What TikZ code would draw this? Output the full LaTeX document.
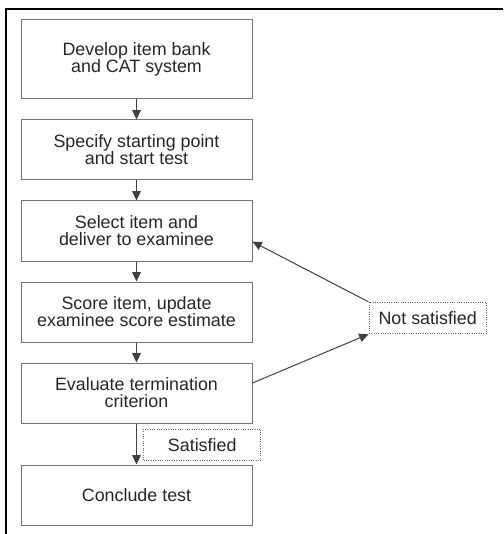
\documentclass[tikz,border=0pt]{standalone}
\usepackage{fontspec}
\setmainfont{Liberation Sans}
\usepackage{tikz}
\usetikzlibrary{arrows.meta, positioning}

\begin{document}
\begin{tikzpicture}[
      x=0.75pt, y=-0.75pt,
      node distance=15pt,
      box/.style={draw=black!55, line width=0.75pt, minimum width=173.25pt, minimum height=45pt, inner sep=0pt, align=center, font=\fontsize{13.4}{12.8}\selectfont, text=black!85},
      tag/.style={draw=black!60, densely dotted, line width=0.75pt, minimum width=88pt, minimum height=23.5pt, inner sep=0pt, font=\fontsize{13.4}{12.8}\selectfont, text=black!85},
      ar/.style={-{Triangle[length=7pt, width=6.5pt]}, draw=black!75, line width=0.75pt}
    ]
    \useasboundingbox (0,0) rectangle (503,534);
    \draw[line width=1.6pt] (6,534) -- (6,9) -- (503,9);

    \node[box, minimum height=59.25pt] (dev) at (136.5,59.5) {Develop item bank\\and CAT system};
    \node[box, below=of dev] (spec) {Specify starting point\\and start test};
    \node[box, below=of spec] (sel) {Select item and\\deliver to examinee};
    \node[box, below=of sel] (score) {Score item, update\\examinee score estimate};
    \node[box, below=of score] (eval) {Evaluate termination\\criterion};
    \node[box, below=30.75pt of eval] (concl) {Conclude test};
    \node[tag, right=87pt of score, yshift=-4.5pt] (notsat) {Not satisfied};
    \node[tag, below right=3.75pt and 4.9pt of eval.south] (sat) {Satisfied};

    \draw[ar] (dev) -- (spec); \draw[ar] (spec) -- (sel); \draw[ar] (sel) -- (score);
    \draw[ar] (score) -- (eval); \draw[ar] (eval) -- (concl);
    \draw[ar] (notsat.north west) -- ([yshift=-8pt]sel.east);
    \draw[ar] ([yshift=7.5pt]eval.east) -- (notsat.south west);
  \end{tikzpicture}
\end{document}
